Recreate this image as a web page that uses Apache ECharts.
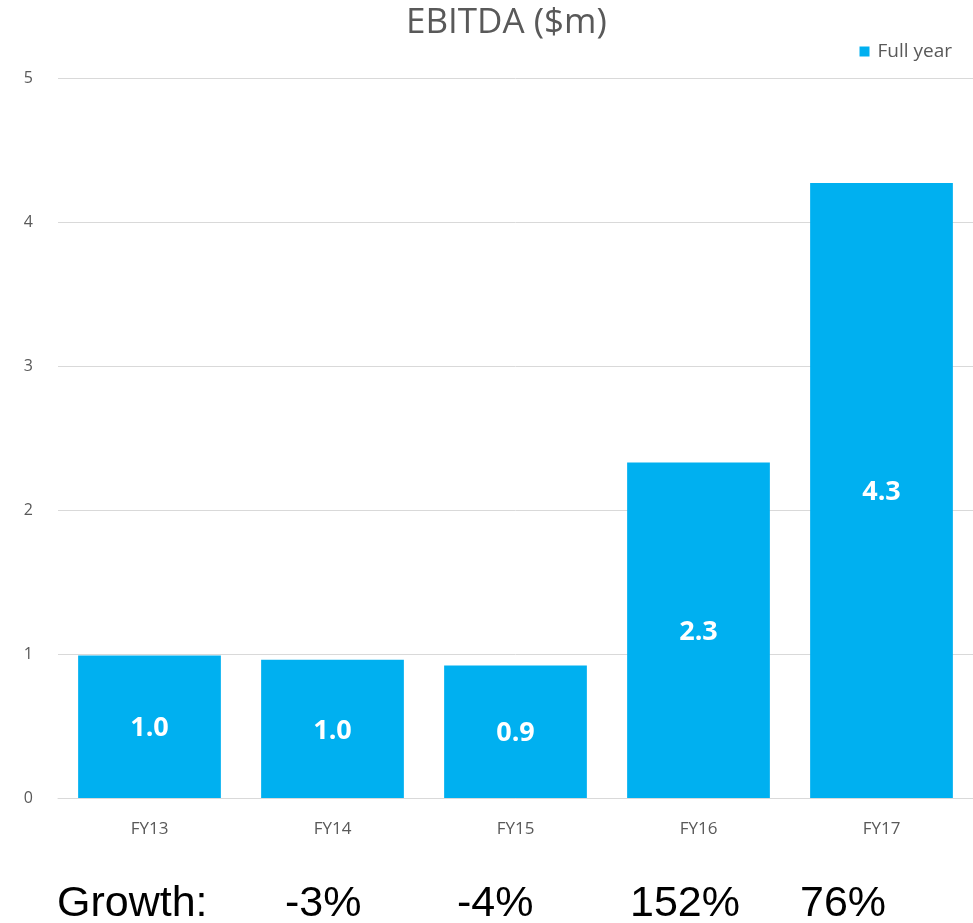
<!DOCTYPE html>
<html><head><meta charset="utf-8">
<script src="https://cdn.jsdelivr.net/npm/echarts@6/dist/echarts.min.js"></script>
<style>html,body{margin:0;padding:0;background:#fff}#c{width:973px;height:923px}</style>
</head><body><div id="c"></div>
<script>
const categories = ['FY13', 'FY14', 'FY15', 'FY16', 'FY17'];
const ebitda = [0.99, 0.96, 0.92, 2.33, 4.27];
const valueLabels = ['1.0', '1.0', '0.9', '2.3', '4.3'];
const growthTitle = 'Growth:';
const growthLabels = ['-3%', '-4%', '152%', '76%'];
const growthX = [285, 457, 630, 800];

const chart = echarts.init(document.getElementById('c'));
const growthFont = '"Liberation Sans", sans-serif';
const gStyle = t => ({text:t, font:'43px ' + growthFont, fill:'#000'});
const graphics = [{type:'text', left:57, top:883, style:gStyle(growthTitle)}];
growthLabels.forEach((g, i) => graphics.push({type:'text', left:growthX[i], top:883, style:gStyle(g)}));

chart.setOption({
  animation:false,
  title:{text:'EBITDA ($m)', left:406, top:6, textStyle:{fontFamily:'Open Sans', fontWeight:'normal', fontSize:35, color:'#595959'}, padding:0, itemGap:0},
  legend:{data:['Full year'], right:16, top:37, itemWidth:10, itemHeight:10, icon:'rect', itemGap:5, textStyle:{fontFamily:'Open Sans', fontSize:19, color:'#595959', padding:[0,0,0,3]}},
  grid:{left:58, right:0, top:78, bottom:125, containLabel:false},
  xAxis:{type:'category', data:categories, axisTick:{show:false}, axisLine:{lineStyle:{color:'#d9d9d9'}}, axisLabel:{fontFamily:'Open Sans', fontSize:17, color:'#595959', margin:23}},
  yAxis:{type:'value', min:0, max:5, interval:1, axisLine:{show:false}, axisTick:{show:false}, splitLine:{lineStyle:{color:'#d9d9d9'}}, axisLabel:{fontFamily:'Open Sans', fontSize:16, color:'#595959', margin:25}},
  series:[{name:'Full year', type:'bar', data:ebitda, barCategoryGap:'22%', itemStyle:{color:'#00B0F0'},
    label:{show:true, position:'inside', formatter:p => valueLabels[p.dataIndex], color:'#fff', fontWeight:'bold', fontSize:27, fontFamily:'Open Sans', offset:[0,2]}}],
  graphic:graphics
});
</script></body></html>
